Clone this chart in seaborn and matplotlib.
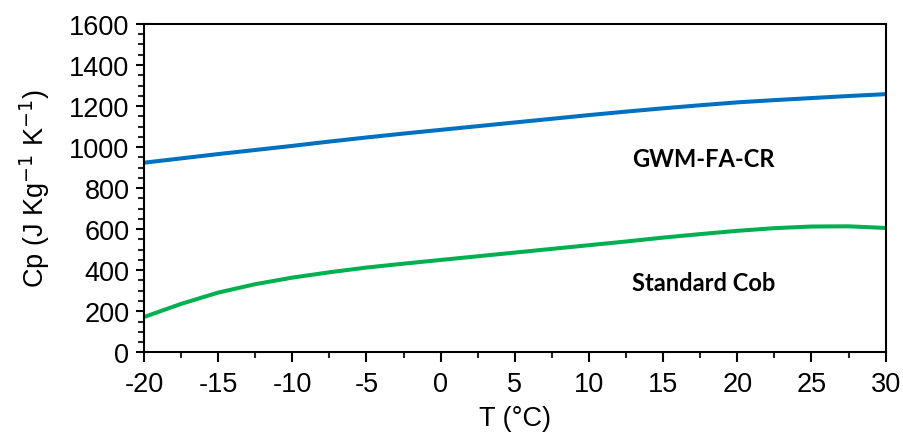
import numpy as np
import pandas as pd
import seaborn as sns
import matplotlib
matplotlib.use("Agg")
import matplotlib.pyplot as plt
from matplotlib.ticker import MultipleLocator

temperature = [-20, -17.5, -15, -12.5, -10, -7.5, -5, -2.5, 0, 2.5, 5, 7.5,
               10, 12.5, 15, 17.5, 20, 22.5, 25, 27.5, 30]
gwm_fa_cr = [924, 945, 966, 986, 1006, 1027, 1047, 1066, 1084, 1102, 1120, 1138,
             1156, 1173, 1189, 1204, 1218, 1229, 1239, 1249, 1258]
standard_cob = [172, 236, 291, 332, 364, 390, 413, 432, 450, 468, 486, 504,
                522, 540, 559, 576, 592, 605, 613, 614, 606]
series_names = ["GWM-FA-CR", "Standard Cob"]
series_colors = ["#0070C0", "#00B050"]

df = pd.DataFrame({
    "T": temperature * 2,
    "Cp": gwm_fa_cr + standard_cob,
    "series": [series_names[0]] * len(temperature) + [series_names[1]] * len(temperature),
})

sns.set_theme(style="white")
plt.rcParams["font.family"] = ["Liberation Sans", "DejaVu Sans"]
plt.rcParams["axes.unicode_minus"] = False

fig = plt.figure(figsize=(9.04, 4.39), dpi=100)
ax = fig.add_axes([0.1593, 0.1952, 0.9797 - 0.1593, 0.9431 - 0.1952])

sns.lineplot(data=df, x="T", y="Cp", hue="series", palette=series_colors,
             hue_order=series_names, linewidth=2.9, legend=False, ax=ax)

ax.set_xlim(-20, 30)
ax.set_ylim(0, 1600)
ax.xaxis.set_major_locator(MultipleLocator(5))
ax.xaxis.set_minor_locator(MultipleLocator(2.5))
ax.yaxis.set_major_locator(MultipleLocator(200))
ax.yaxis.set_minor_locator(MultipleLocator(50))

for s in ax.spines.values():
    s.set_color("black")
    s.set_linewidth(1.5)

ax.tick_params(axis="x", which="major", direction="out", length=7.5, width=1.5,
               bottom=True, labelsize=19.5, colors="black", pad=6)
ax.tick_params(axis="x", which="minor", direction="out", length=4.5, width=1.5, bottom=True)
ax.tick_params(axis="y", which="major", direction="out", length=5.5, width=1.5,
               left=True, labelsize=19.5, colors="black", pad=5)
ax.tick_params(axis="y", which="minor", direction="out", length=4, width=1.5, left=True)

ax.set_xlabel("T (°C)", fontsize=19.5, color="black", labelpad=6)
ax.set_ylabel("Cp (J Kg$^{\\mathsf{-1}}$ K$^{\\mathsf{-1}}$)", fontsize=19.5,
              color="black", labelpad=12)

ax.text(17.7, 945, "GWM-FA-CR", fontsize=17, fontweight="bold", family="Lato",
        ha="center", va="center", color="black")
ax.text(17.7, 340, "Standard Cob", fontsize=17, fontweight="bold", family="Lato",
        ha="center", va="center", color="black")

fig.savefig("out.png", dpi=100)
